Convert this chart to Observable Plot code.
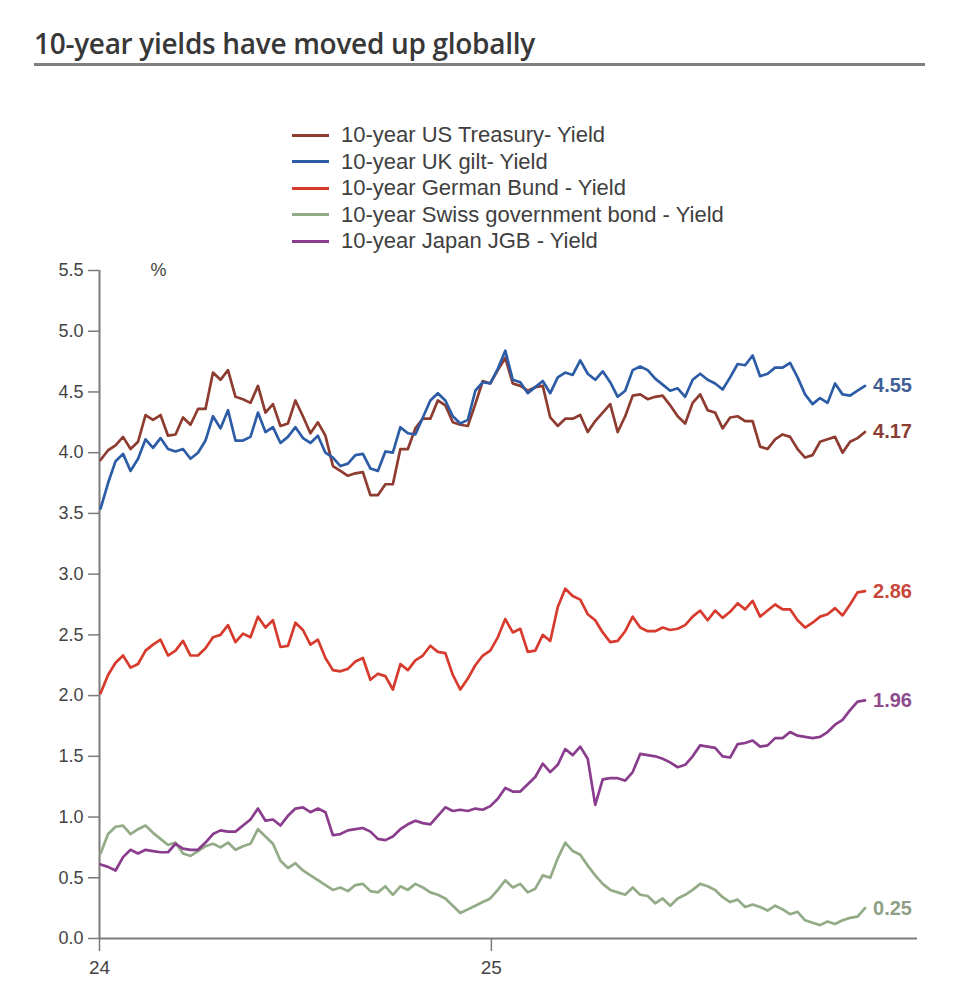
<!DOCTYPE html>
<html>
<head>
<meta charset="utf-8">
<script src="https://cdn.jsdelivr.net/npm/d3@7"></script>
<script src="https://cdn.jsdelivr.net/npm/@observablehq/plot@0.6"></script>
<style>
  body { margin: 0; background: #fff; width: 980px; height: 1002px; overflow: hidden; }
  #head { position: relative; height: 250px; }
  #title { position: absolute; left: 34px; top: 24px; font-family: "Open Sans", sans-serif; font-weight: 600; font-size: 28px; color: #383838; white-space: nowrap; letter-spacing: -0.3px; }
  #rule { position: absolute; left: 34px; top: 63px; width: 891px; height: 3px; background: #7f7f7f; }
  #legend { position: absolute; left: 292px; top: 122px; font-family: "Liberation Sans", Arial, sans-serif; font-size: 22px; color: #404040; }
  .row { height: 26.5px; line-height: 26.5px; white-space: nowrap; display: flex; align-items: center; }
  .sw { display: inline-block; width: 37px; height: 3px; margin-right: 12px; }
</style>
</head>
<body>
<div id="head">
  <div id="title">10-year yields have moved up globally</div>
  <div id="rule"></div>
  <div id="legend"></div>
</div>
<div id="chart"></div>
<script>
// Series names (legend labels)
const seriesNames = [
  "10-year US Treasury- Yield",
  "10-year UK gilt- Yield",
  "10-year German Bund - Yield",
  "10-year Swiss government bond - Yield",
  "10-year Japan JGB - Yield"
];
const lineColors = ["#8e3b30", "#2d5ca6", "#d63b2d", "#93ab86", "#8b3d8d"];
const labelColors = ["#8a3e35", "#3f5f96", "#c9463b", "#8f9f86", "#8e4c8e"];

// Weekly observations (Tuesdays) starting 2 Jan 2024
const startDate = "2024-01-02";

const usTreasury = [3.94,4.02,4.06,4.13,4.03,4.09,4.31,4.27,4.31,4.14,4.15,4.29,4.23,4.36,4.36,4.66,4.60,4.68,4.46,4.44,
  4.41,4.55,4.33,4.40,4.22,4.24,4.43,4.30,4.16,4.25,4.14,3.89,3.85,3.81,3.83,3.84,3.65,3.65,3.74,3.74,
  4.03,4.03,4.20,4.28,4.28,4.43,4.39,4.25,4.23,4.22,4.40,4.59,4.57,4.68,4.78,4.57,4.55,4.51,4.54,4.55,
  4.29,4.22,4.28,4.28,4.31,4.17,4.26,4.33,4.40,4.17,4.30,4.47,4.48,4.44,4.46,4.47,4.39,4.30,4.24,4.41,
  4.48,4.35,4.33,4.20,4.29,4.30,4.26,4.26,4.05,4.03,4.11,4.15,4.13,4.03,3.96,3.98,4.09,4.11,4.13,4.00,
  4.09,4.12,4.17];
const ukGilt = [3.54,3.75,3.93,3.99,3.85,3.95,4.11,4.04,4.12,4.03,4.01,4.03,3.95,4.00,4.10,4.30,4.20,4.35,4.10,4.10,
  4.13,4.33,4.17,4.21,4.08,4.13,4.21,4.12,4.08,4.14,4.00,3.96,3.89,3.91,3.98,3.99,3.87,3.85,4.01,4.00,
  4.21,4.16,4.15,4.29,4.43,4.49,4.43,4.30,4.24,4.27,4.51,4.58,4.57,4.69,4.84,4.60,4.58,4.49,4.54,4.59,
  4.49,4.62,4.66,4.64,4.76,4.65,4.60,4.67,4.58,4.46,4.51,4.68,4.71,4.68,4.61,4.56,4.51,4.53,4.46,4.60,
  4.65,4.60,4.57,4.52,4.62,4.73,4.72,4.80,4.63,4.65,4.70,4.70,4.74,4.62,4.48,4.40,4.45,4.41,4.57,4.48,
  4.47,4.51,4.55];
const germanBund = [2.02,2.17,2.27,2.33,2.23,2.26,2.37,2.42,2.46,2.33,2.37,2.45,2.33,2.33,2.39,2.48,2.50,2.58,2.44,2.51,
  2.48,2.65,2.56,2.62,2.40,2.41,2.60,2.54,2.42,2.46,2.31,2.21,2.20,2.22,2.28,2.31,2.13,2.18,2.16,2.05,
  2.26,2.21,2.29,2.33,2.41,2.36,2.35,2.17,2.05,2.14,2.25,2.33,2.37,2.48,2.63,2.52,2.55,2.36,2.37,2.50,
  2.45,2.73,2.88,2.82,2.79,2.67,2.62,2.52,2.44,2.45,2.53,2.65,2.56,2.53,2.53,2.56,2.54,2.55,2.58,2.65,
  2.70,2.62,2.70,2.64,2.69,2.76,2.71,2.78,2.65,2.70,2.75,2.71,2.71,2.62,2.56,2.60,2.65,2.67,2.72,2.66,
  2.75,2.85,2.86];
const swissBond = [0.70,0.86,0.92,0.93,0.86,0.90,0.93,0.87,0.82,0.77,0.79,0.70,0.68,0.72,0.76,0.78,0.75,0.79,0.73,0.76,
  0.78,0.90,0.84,0.78,0.64,0.58,0.62,0.56,0.52,0.48,0.44,0.40,0.42,0.39,0.44,0.45,0.39,0.38,0.43,0.36,
  0.43,0.40,0.45,0.42,0.38,0.36,0.33,0.27,0.21,0.24,0.27,0.30,0.33,0.40,0.48,0.42,0.45,0.38,0.41,0.52,
  0.50,0.66,0.79,0.72,0.69,0.60,0.52,0.45,0.40,0.38,0.36,0.42,0.36,0.35,0.29,0.33,0.27,0.33,0.36,0.40,
  0.45,0.43,0.40,0.34,0.30,0.32,0.26,0.28,0.26,0.23,0.27,0.24,0.20,0.22,0.15,0.13,0.11,0.14,0.12,0.15,
  0.17,0.18,0.25];
const japanJGB = [0.61,0.59,0.56,0.67,0.73,0.70,0.73,0.72,0.71,0.71,0.78,0.74,0.73,0.73,0.79,0.86,0.89,0.88,0.88,0.93,
  0.98,1.07,0.97,0.98,0.93,1.01,1.07,1.08,1.04,1.07,1.04,0.85,0.86,0.89,0.90,0.91,0.88,0.82,0.81,0.84,
  0.90,0.94,0.97,0.95,0.94,1.01,1.08,1.05,1.06,1.05,1.07,1.06,1.09,1.15,1.24,1.21,1.21,1.27,1.33,1.44,
  1.37,1.43,1.56,1.51,1.58,1.48,1.10,1.31,1.32,1.32,1.30,1.37,1.52,1.51,1.50,1.48,1.45,1.41,1.43,1.50,
  1.59,1.58,1.57,1.50,1.49,1.60,1.61,1.63,1.58,1.59,1.65,1.65,1.70,1.67,1.66,1.65,1.66,1.70,1.76,1.80,
  1.88,1.95,1.96];

const yTicks = [0, 0.5, 1, 1.5, 2, 2.5, 3, 3.5, 4, 4.5, 5, 5.5];
const xTickDates = ["2024-01-01", "2025-01-01"];
const xDomain = ["2024-01-01", "2026-02-03"];

const allValues = [usTreasury, ukGilt, germanBund, swissBond, japanJGB];
const start = new Date(startDate + "T00:00:00Z");
const series = seriesNames.map((name, i) => ({
  name, color: lineColors[i], labelColor: labelColors[i],
  data: allValues[i].map((v, k) => ({date: d3.utcDay.offset(start, 7 * k), value: v}))
}));

// Legend
const legend = document.getElementById("legend");
series.forEach(s => {
  const row = document.createElement("div");
  row.className = "row";
  const sw = document.createElement("span");
  sw.className = "sw";
  sw.style.background = s.color;
  row.appendChild(sw);
  row.appendChild(document.createTextNode(s.name));
  legend.appendChild(row);
});

const xStart = new Date(xDomain[0] + "T00:00:00Z");
const axisColor = "#7b7b7b";

const chart = Plot.plot({
  width: 980,
  height: 752,
  marginTop: 20,
  marginBottom: 64,
  marginLeft: 99,
  marginRight: 63,
  style: {fontFamily: "'Liberation Sans', Arial, sans-serif", fontSize: "18px", color: "#444", background: "#fff"},
  x: {type: "utc", domain: xDomain.map(d => new Date(d + "T00:00:00Z")), label: null},
  y: {domain: [0, 5.5], label: null},
  marks: [
    Plot.axisY({ticks: yTicks, tickFormat: d => d.toFixed(1), tickSize: 11, tickPadding: 5, stroke: axisColor, strokeWidth: 1.5, fill: "#444", fontSize: 18, label: null}),
    Plot.axisX({ticks: xTickDates.map(d => new Date(d + "T00:00:00Z")), tickFormat: d3.utcFormat("%y"), tickSize: 13, tickPadding: 9, stroke: axisColor, strokeWidth: 1.5, fill: "#444", fontSize: 19, label: null}),
    Plot.ruleY([0], {stroke: axisColor, strokeWidth: 2}),
    Plot.ruleX([xStart], {y1: 0, y2: 5.5, stroke: axisColor, strokeWidth: 2}),
    ...series.map(s => Plot.lineY(s.data, {x: "date", y: "value", stroke: s.color, strokeWidth: 2.7, strokeLinejoin: "round"})),
    ...series.map(s => Plot.text(s.data, Plot.selectLast({x: "date", y: "value", text: d => d.value.toFixed(2), fill: s.labelColor, dx: 8, textAnchor: "start", fontWeight: "bold", fontSize: 20}))),
    Plot.text(["%"], {frameAnchor: "top-left", dx: 51, lineAnchor: "middle", textAnchor: "start", fontSize: 18, fill: "#444"})
  ]
});
document.getElementById("chart").appendChild(chart);
</script>
</body>
</html>
